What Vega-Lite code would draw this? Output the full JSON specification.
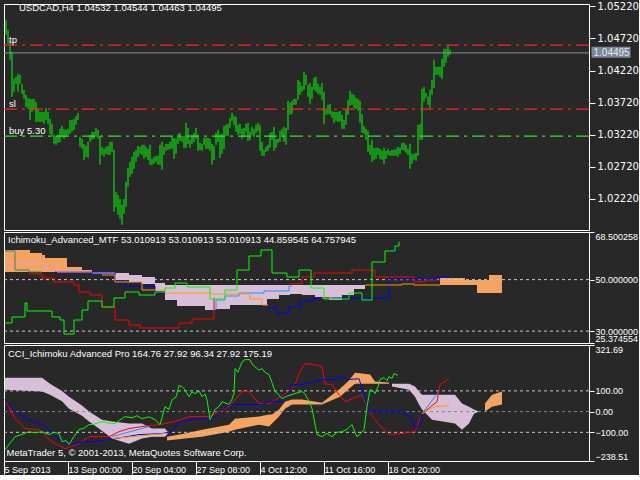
{
"$schema": "https://vega.github.io/schema/vega-lite/v6.json",
"background": "#282828",
"padding": {"left": 2, "top": 0, "right": 0, "bottom": 0},
"spacing": 2,
"bounds": "flush",
"config": {
  "view": {"stroke": "#ffffff", "strokeWidth": 1, "fill": null},
  "axis": {"grid": false, "domain": false, "labelColor": "#ffffff", "tickColor": "#ffffff", "labelFont": "Liberation Sans", "labelFontSize": 9, "labelOverlap": false},
  "title": {"color": "#ffffff", "font": "Liberation Sans", "fontSize": 9.5, "fontWeight": "normal", "anchor": "start", "frame": "group", "baseline": "alphabetic"},
  "text": {"font": "Liberation Sans", "fontSize": 9.5, "color": "#ffffff"}
},
"datasets": {
  "bars": [
{"t":1,"lo":1.04777,"hi":1.05012},{"t":2,"lo":1.04637,"hi":1.04855},{"t":3,"lo":1.04387,"hi":1.04668},{"t":4,"lo":1.03809,"hi":1.04512},{"t":5,"lo":1.03887,"hi":1.04090},{"t":6,"lo":1.04012,"hi":1.04121},{"t":7,"lo":1.03887,"hi":1.04168},{"t":8,"lo":1.04012,"hi":1.04152},{"t":9,"lo":1.03855,"hi":1.04012},{"t":10,"lo":1.03777,"hi":1.03918},
{"t":11,"lo":1.03652,"hi":1.03840},{"t":12,"lo":1.03621,"hi":1.03793},{"t":13,"lo":1.03449,"hi":1.03777},{"t":14,"lo":1.03574,"hi":1.03777},{"t":15,"lo":1.03605,"hi":1.03777},{"t":16,"lo":1.03418,"hi":1.03730},{"t":17,"lo":1.03418,"hi":1.03621},{"t":18,"lo":1.03418,"hi":1.03574},{"t":19,"lo":1.03418,"hi":1.03574},{"t":20,"lo":1.03387,"hi":1.03574},
{"t":21,"lo":1.03449,"hi":1.03637},{"t":22,"lo":1.03387,"hi":1.03574},{"t":23,"lo":1.03230,"hi":1.03465},{"t":24,"lo":1.03184,"hi":1.03387},{"t":25,"lo":1.03074,"hi":1.03215},{"t":26,"lo":1.03059,"hi":1.03199},{"t":27,"lo":1.03090,"hi":1.03215},{"t":28,"lo":1.03105,"hi":1.03309},{"t":29,"lo":1.03184,"hi":1.03355},{"t":30,"lo":1.03152,"hi":1.03309},
{"t":31,"lo":1.03184,"hi":1.03293},{"t":32,"lo":1.03215,"hi":1.03309},{"t":33,"lo":1.03230,"hi":1.03449},{"t":34,"lo":1.03262,"hi":1.03449},{"t":35,"lo":1.03293,"hi":1.03465},{"t":36,"lo":1.03371,"hi":1.03512},{"t":37,"lo":1.03449,"hi":1.03559},{"t":38,"lo":1.03027,"hi":1.03184},{"t":39,"lo":1.02996,"hi":1.03152},{"t":40,"lo":1.02824,"hi":1.03074},
{"t":41,"lo":1.02871,"hi":1.03043},{"t":42,"lo":1.02855,"hi":1.03105},{"t":43,"lo":1.03105,"hi":1.03215},{"t":44,"lo":1.03137,"hi":1.03262},{"t":45,"lo":1.03152,"hi":1.03262},{"t":46,"lo":1.03184,"hi":1.03324},{"t":47,"lo":1.03152,"hi":1.03293},{"t":48,"lo":1.02746,"hi":1.03199},{"t":49,"lo":1.02902,"hi":1.03027},{"t":50,"lo":1.02871,"hi":1.02996},
{"t":51,"lo":1.02918,"hi":1.03027},{"t":52,"lo":1.02902,"hi":1.03043},{"t":53,"lo":1.02902,"hi":1.03105},{"t":54,"lo":1.02949,"hi":1.03105},{"t":55,"lo":1.02012,"hi":1.02980},{"t":56,"lo":1.02090,"hi":1.02324},{"t":57,"lo":1.01965,"hi":1.02277},{"t":58,"lo":1.01902,"hi":1.02215},{"t":59,"lo":1.01809,"hi":1.02121},{"t":60,"lo":1.01980,"hi":1.02215},
{"t":61,"lo":1.02090,"hi":1.02480},{"t":62,"lo":1.02402,"hi":1.02699},{"t":63,"lo":1.02559,"hi":1.02793},{"t":64,"lo":1.02605,"hi":1.02871},{"t":65,"lo":1.02684,"hi":1.02949},{"t":66,"lo":1.02793,"hi":1.02980},{"t":67,"lo":1.02871,"hi":1.03043},{"t":68,"lo":1.02918,"hi":1.03027},{"t":69,"lo":1.02902,"hi":1.03059},{"t":70,"lo":1.02840,"hi":1.03059},
{"t":71,"lo":1.02871,"hi":1.03027},{"t":72,"lo":1.02824,"hi":1.02996},{"t":73,"lo":1.02746,"hi":1.03059},{"t":74,"lo":1.02746,"hi":1.02840},{"t":75,"lo":1.02762,"hi":1.02871},{"t":76,"lo":1.02793,"hi":1.02887},{"t":77,"lo":1.02746,"hi":1.02887},{"t":78,"lo":1.02746,"hi":1.03059},{"t":79,"lo":1.02668,"hi":1.03105},{"t":80,"lo":1.02902,"hi":1.03027},
{"t":81,"lo":1.02965,"hi":1.03074},{"t":82,"lo":1.02980,"hi":1.03074},{"t":83,"lo":1.02996,"hi":1.03105},{"t":84,"lo":1.02996,"hi":1.03184},{"t":85,"lo":1.02840,"hi":1.03168},{"t":86,"lo":1.02918,"hi":1.03152},{"t":87,"lo":1.03074,"hi":1.03230},{"t":88,"lo":1.03121,"hi":1.03246},{"t":89,"lo":1.03105,"hi":1.03199},{"t":90,"lo":1.03012,"hi":1.03199},
{"t":91,"lo":1.03012,"hi":1.03402},{"t":92,"lo":1.03074,"hi":1.03324},{"t":93,"lo":1.03012,"hi":1.03137},{"t":94,"lo":1.03074,"hi":1.03215},{"t":95,"lo":1.03105,"hi":1.03246},{"t":96,"lo":1.03152,"hi":1.03324},{"t":97,"lo":1.02965,"hi":1.03215},{"t":98,"lo":1.02980,"hi":1.03090},{"t":99,"lo":1.02965,"hi":1.03074},{"t":100,"lo":1.03059,"hi":1.03168},
{"t":101,"lo":1.02996,"hi":1.03168},{"t":102,"lo":1.02996,"hi":1.03168},{"t":103,"lo":1.02965,"hi":1.03152},{"t":104,"lo":1.02746,"hi":1.03074},{"t":105,"lo":1.02824,"hi":1.03043},{"t":106,"lo":1.03059,"hi":1.03246},{"t":107,"lo":1.03105,"hi":1.03293},{"t":108,"lo":1.02855,"hi":1.03215},{"t":109,"lo":1.02918,"hi":1.03230},{"t":110,"lo":1.02996,"hi":1.03355},
{"t":111,"lo":1.03199,"hi":1.03371},{"t":112,"lo":1.03199,"hi":1.03387},{"t":113,"lo":1.03324,"hi":1.03480},{"t":114,"lo":1.03434,"hi":1.03559},{"t":115,"lo":1.03371,"hi":1.03512},{"t":116,"lo":1.03262,"hi":1.03496},{"t":117,"lo":1.03215,"hi":1.03371},{"t":118,"lo":1.03230,"hi":1.03387},{"t":119,"lo":1.03152,"hi":1.03309},{"t":120,"lo":1.03184,"hi":1.03324},
{"t":121,"lo":1.03262,"hi":1.03387},{"t":122,"lo":1.03121,"hi":1.03402},{"t":123,"lo":1.03137,"hi":1.03262},{"t":124,"lo":1.03215,"hi":1.03340},{"t":125,"lo":1.03184,"hi":1.03309},{"t":126,"lo":1.03246,"hi":1.03371},{"t":127,"lo":1.03277,"hi":1.03402},{"t":128,"lo":1.02965,"hi":1.03371},{"t":129,"lo":1.02887,"hi":1.03105},{"t":130,"lo":1.02887,"hi":1.02980},
{"t":131,"lo":1.02949,"hi":1.03027},{"t":132,"lo":1.02965,"hi":1.03059},{"t":133,"lo":1.03012,"hi":1.03246},{"t":134,"lo":1.03137,"hi":1.03262},{"t":135,"lo":1.02965,"hi":1.03340},{"t":136,"lo":1.03012,"hi":1.03152},{"t":137,"lo":1.03090,"hi":1.03152},{"t":138,"lo":1.03105,"hi":1.03277},{"t":139,"lo":1.03184,"hi":1.03309},{"t":140,"lo":1.03105,"hi":1.03340},
{"t":141,"lo":1.03059,"hi":1.03324},{"t":142,"lo":1.03293,"hi":1.03746},{"t":143,"lo":1.03527,"hi":1.03715},{"t":144,"lo":1.03543,"hi":1.03746},{"t":145,"lo":1.03684,"hi":1.03777},{"t":146,"lo":1.03684,"hi":1.03777},{"t":147,"lo":1.03762,"hi":1.04074},{"t":148,"lo":1.03840,"hi":1.04043},{"t":149,"lo":1.03887,"hi":1.03980},{"t":150,"lo":1.03918,"hi":1.04199},
{"t":151,"lo":1.03996,"hi":1.04152},{"t":152,"lo":1.03809,"hi":1.03996},{"t":153,"lo":1.03699,"hi":1.04027},{"t":154,"lo":1.03777,"hi":1.03965},{"t":155,"lo":1.03918,"hi":1.04105},{"t":156,"lo":1.03887,"hi":1.04121},{"t":157,"lo":1.03855,"hi":1.04012},{"t":158,"lo":1.03840,"hi":1.03965},{"t":159,"lo":1.03762,"hi":1.04027},{"t":160,"lo":1.03387,"hi":1.03887},
{"t":161,"lo":1.03527,"hi":1.03605},{"t":162,"lo":1.03543,"hi":1.03684},{"t":163,"lo":1.03527,"hi":1.03699},{"t":164,"lo":1.03480,"hi":1.03590},{"t":165,"lo":1.03402,"hi":1.03574},{"t":166,"lo":1.03434,"hi":1.03574},{"t":167,"lo":1.03418,"hi":1.03574},{"t":168,"lo":1.03418,"hi":1.03590},{"t":169,"lo":1.03309,"hi":1.03527},{"t":170,"lo":1.03309,"hi":1.03449},
{"t":171,"lo":1.03371,"hi":1.03621},{"t":172,"lo":1.03527,"hi":1.03762},{"t":173,"lo":1.03668,"hi":1.03902},{"t":174,"lo":1.03684,"hi":1.03855},{"t":175,"lo":1.03637,"hi":1.03840},{"t":176,"lo":1.03621,"hi":1.03793},{"t":177,"lo":1.03590,"hi":1.03777},{"t":178,"lo":1.03402,"hi":1.03746},{"t":179,"lo":1.03246,"hi":1.03543},{"t":180,"lo":1.03230,"hi":1.03355},
{"t":181,"lo":1.03137,"hi":1.03309},{"t":182,"lo":1.02949,"hi":1.03277},{"t":183,"lo":1.02902,"hi":1.03059},{"t":184,"lo":1.02793,"hi":1.03137},{"t":185,"lo":1.02824,"hi":1.03012},{"t":186,"lo":1.02840,"hi":1.03012},{"t":187,"lo":1.02902,"hi":1.03012},{"t":188,"lo":1.02840,"hi":1.02996},{"t":189,"lo":1.02824,"hi":1.02965},{"t":190,"lo":1.02762,"hi":1.03012},
{"t":191,"lo":1.02840,"hi":1.02965},{"t":192,"lo":1.02902,"hi":1.02996},{"t":193,"lo":1.02887,"hi":1.02965},{"t":194,"lo":1.02887,"hi":1.02980},{"t":195,"lo":1.02887,"hi":1.02980},{"t":196,"lo":1.02887,"hi":1.02996},{"t":197,"lo":1.02871,"hi":1.03027},{"t":198,"lo":1.02918,"hi":1.03012},{"t":199,"lo":1.02980,"hi":1.03090},{"t":200,"lo":1.02965,"hi":1.03090},
{"t":201,"lo":1.02934,"hi":1.03059},{"t":202,"lo":1.02902,"hi":1.02996},{"t":203,"lo":1.02684,"hi":1.03074},{"t":204,"lo":1.02762,"hi":1.02918},{"t":205,"lo":1.02824,"hi":1.02918},{"t":206,"lo":1.02809,"hi":1.02934},{"t":207,"lo":1.02887,"hi":1.03371},{"t":208,"lo":1.03137,"hi":1.03387},{"t":209,"lo":1.03137,"hi":1.03934},{"t":210,"lo":1.03730,"hi":1.03965},
{"t":211,"lo":1.03793,"hi":1.03871},{"t":212,"lo":1.03684,"hi":1.03809},{"t":213,"lo":1.03637,"hi":1.03918},{"t":214,"lo":1.03840,"hi":1.04074},{"t":215,"lo":1.03949,"hi":1.04387},{"t":216,"lo":1.04152,"hi":1.04277},{"t":217,"lo":1.04152,"hi":1.04277},{"t":218,"lo":1.04121,"hi":1.04277},{"t":219,"lo":1.04090,"hi":1.04402},{"t":220,"lo":1.04277,"hi":1.04559},
{"t":221,"lo":1.04340,"hi":1.04559},{"t":222,"lo":1.04434,"hi":1.04605},{"t":223,"lo":1.04463,"hi":1.04544}
  ],
  "levels": [{"name":"tp","price":1.04617},{"name":"sl","price":1.03617},{"name":"buy 5.30","price":1.03195}],
  "last": [{"price":1.04495}],
  "ich": [
{"s":"lime","g":"lime","t":0.5,"v":33.15},{"s":"lime","g":"lime","t":4,"v":35.48},{"s":"lime","g":"lime","t":10.5,"v":40.92},{"s":"lime","g":"lime","t":11.5,"v":37.81},{"s":"lime","g":"lime","t":24,"v":35.48},{"s":"lime","g":"lime","t":28,"v":34.31},{"s":"lime","g":"lime","t":30,"v":28.87},{"s":"lime","g":"lime","t":35,"v":34.31},{"s":"lime","g":"lime","t":39,"v":38.20},{"s":"lime","g":"lime","t":42,"v":41.69},{"s":"lime","g":"lime","t":49,"v":39.36},{"s":"lime","g":"lime","t":55,"v":42.86},{"s":"lime","g":"lime","t":60.5,"v":45.19},{"s":"lime","g":"lime","t":67.5,"v":44.02},{"s":"lime","g":"lime","t":75.5,"v":45.19},{"s":"lime","g":"lime","t":80.5,"v":46.74},{"s":"lime","g":"lime","t":85.5,"v":48.69},{"s":"lime","g":"lime","t":91.5,"v":47.13},{"s":"lime","g":"lime","t":103,"v":42.47},{"s":"lime","g":"lime","t":110.5,"v":45.97},{"s":"lime","g":"lime","t":116.5,"v":53.74},{"s":"lime","g":"lime","t":122.5,"v":59.18},{"s":"lime","g":"lime","t":128.5,"v":61.51},{"s":"lime","g":"lime","t":134,"v":52.57},{"s":"lime","g":"lime","t":141.5,"v":51.02},{"s":"lime","g":"lime","t":147.5,"v":53.74},{"s":"lime","g":"lime","t":153.5,"v":46.74},{"s":"lime","g":"lime","t":160,"v":42.47},{"s":"lime","g":"lime","t":172.5,"v":44.80},{"s":"lime","g":"lime","t":179,"v":42.08},{"s":"lime","g":"lime","t":184,"v":56.85},{"s":"lime","g":"lime","t":190.5,"v":61.12},{"s":"lime","g":"lime","t":195.5,"v":63.06},{"s":"lime","g":"lime","t":197.5,"v":64.76},
{"s":"red","g":"ra","t":12.5,"v":52.18},{"s":"red","g":"ra","t":19,"v":50.63},{"s":"red","g":"ra","t":25,"v":49.07},{"s":"red","g":"ra","t":35,"v":47.91},{"s":"red","g":"ra","t":37.5,"v":45.19},{"s":"red","g":"ra","t":43,"v":44.02},{"s":"red","g":"ra","t":49,"v":39.36},{"s":"red","g":"ra","t":55.5,"v":34.31},{"s":"red","g":"ra","t":62.5,"v":32.37},{"s":"red","g":"ra","t":68,"v":31.20},{"s":"red","g":"ra","t":87.5,"v":33.15},{"s":"red","g":"ra","t":94,"v":34.70},{"s":"red","g":"ra","t":105,"v":42.86},
{"s":"red","g":"rb","t":142.5,"v":48.30},{"s":"red","g":"rb","t":149,"v":51.02},{"s":"red","g":"rb","t":155,"v":52.57},{"s":"red","g":"rb","t":174,"v":53.74},{"s":"red","g":"rb","t":185.5,"v":51.02},{"s":"red","g":"rb","t":205,"v":49.07},{"s":"red","g":"rb","t":210.5,"v":49.85},{"s":"red","g":"rb","t":216.5,"v":50.63},{"s":"red","g":"rb","t":217.5,"v":50.63},
{"s":"blue","g":"ba","t":25.5,"v":52.96},{"s":"blue","g":"ba","t":44,"v":52.57},{"s":"blue","g":"ba","t":55.5,"v":48.69},{"s":"blue","g":"ba","t":60.5,"v":47.52},{"s":"blue","g":"ba","t":75.5,"v":44.80},{"s":"blue","g":"ba","t":80.5,"v":44.80},
{"s":"blue","g":"bb","t":130.5,"v":38.97},{"s":"blue","g":"bb","t":136.5,"v":37.03},{"s":"blue","g":"bb","t":142.5,"v":39.36},{"s":"blue","g":"bb","t":148,"v":41.69},{"s":"blue","g":"bb","t":155,"v":42.86},{"s":"blue","g":"bb","t":192.5,"v":50.24},{"s":"blue","g":"bb","t":216.5,"v":51.02},{"s":"blue","g":"bb","t":223,"v":51.02},
{"s":"dodger","g":"da","t":105.5,"v":38.20},{"s":"dodger","g":"da","t":106,"v":42.08},{"s":"dodger","g":"da","t":110.5,"v":43.63},{"s":"dodger","g":"da","t":117.5,"v":44.80},{"s":"dodger","g":"da","t":130,"v":45.58},{"s":"dodger","g":"da","t":142.5,"v":47.52},{"s":"dodger","g":"da","t":144,"v":47.52},
{"s":"orange","g":"oa","t":49,"v":51.79},{"s":"orange","g":"oa","t":55.5,"v":49.07},{"s":"orange","g":"oa","t":69,"v":45.97},{"s":"orange","g":"oa","t":80.5,"v":44.80},{"s":"orange","g":"oa","t":104,"v":44.41},{"s":"orange","g":"oa","t":123,"v":42.47},{"s":"orange","g":"oa","t":129,"v":40.14},{"s":"orange","g":"oa","t":132,"v":40.14},
{"s":"orange","g":"ob","t":159,"v":42.86},{"s":"orange","g":"ob","t":164,"v":42.86},
{"s":"orange","g":"oc","t":180.5,"v":47.91},{"s":"orange","g":"oc","t":199,"v":48.30},{"s":"orange","g":"oc","t":205,"v":47.91},{"s":"orange","g":"oc","t":218,"v":47.91},
{"s":"plum","g":"pl","t":0.5,"v":56.46},{"s":"plum","g":"pl","t":20.5,"v":54.51},{"s":"plum","g":"pl","t":26.5,"v":52.96},{"s":"plum","g":"pl","t":44,"v":52.96},
{"s":"sea","g":"sg","t":0.5,"v":61.12},{"s":"sea","g":"sg","t":5.5,"v":53.74},{"s":"sea","g":"sg","t":12.5,"v":52.96},{"s":"sea","g":"sg","t":19,"v":52.96}
  ],
  "ichc": [
{"c":"sandy","g":"o1","t":0.5,"top":61.51,"bot":52.96},{"c":"sandy","g":"o1","t":13,"top":60.34,"bot":52.96},{"c":"sandy","g":"o1","t":19,"top":59.56,"bot":52.96},{"c":"sandy","g":"o1","t":20.5,"top":58.40,"bot":52.96},{"c":"sandy","g":"o1","t":31.5,"top":54.90,"bot":52.96},{"c":"sandy","g":"o1","t":39,"top":53.74,"bot":52.96},{"c":"sandy","g":"o1","t":44,"top":53.74,"bot":52.96},
{"c":"sandy","g":"o2","t":218,"top":50.63,"bot":47.91},{"c":"sandy","g":"o2","t":230.5,"top":49.85,"bot":47.91},{"c":"sandy","g":"o2","t":236.5,"top":49.85,"bot":44.80},{"c":"sandy","g":"o2","t":242.5,"top":51.79,"bot":44.80},{"c":"sandy","g":"o2","t":249,"top":51.79,"bot":44.80},
{"c":"thistle","g":"p1","t":44,"top":52.96,"bot":52.18},{"c":"thistle","g":"p1","t":55.5,"top":52.57,"bot":49.85},{"c":"thistle","g":"p1","t":62.5,"top":51.79,"bot":49.07},{"c":"thistle","g":"p1","t":69,"top":51.02,"bot":48.30},{"c":"thistle","g":"p1","t":75.5,"top":48.69,"bot":45.58},{"c":"thistle","g":"p1","t":80.5,"top":47.91,"bot":42.08},{"c":"thistle","g":"p1","t":86.5,"top":47.91,"bot":39.75},{"c":"thistle","g":"p1","t":100.5,"top":47.91,"bot":38.20},{"c":"thistle","g":"p1","t":105.5,"top":47.91,"bot":38.58},{"c":"thistle","g":"p1","t":113,"top":47.91,"bot":40.14},{"c":"thistle","g":"p1","t":131.5,"top":47.91,"bot":42.47},{"c":"thistle","g":"p1","t":137.5,"top":47.91,"bot":44.02},{"c":"thistle","g":"p1","t":143,"top":47.91,"bot":44.41},{"c":"thistle","g":"p1","t":149,"top":47.91,"bot":44.02},{"c":"thistle","g":"p1","t":155.5,"top":47.91,"bot":43.25},{"c":"thistle","g":"p1","t":162.5,"top":47.91,"bot":42.08},{"c":"thistle","g":"p1","t":169,"top":47.91,"bot":44.02},{"c":"thistle","g":"p1","t":175,"top":47.91,"bot":46.35},{"c":"thistle","g":"p1","t":180.5,"top":47.91,"bot":46.35}
  ],
  "cci": [
{"s":"lime","g":"l","t":0.5,"v":-184},{"s":"lime","g":"l","t":5.5,"v":-121},{"s":"lime","g":"l","t":9,"v":-110},{"s":"lime","g":"l","t":12.5,"v":-97},{"s":"lime","g":"l","t":15.5,"v":-102},{"s":"lime","g":"l","t":19,"v":-97},{"s":"lime","g":"l","t":22.5,"v":-111},{"s":"lime","g":"l","t":25,"v":-100},{"s":"lime","g":"l","t":27.5,"v":-106},{"s":"lime","g":"l","t":29,"v":-145},{"s":"lime","g":"l","t":31,"v":-140},{"s":"lime","g":"l","t":32.5,"v":-159},{"s":"lime","g":"l","t":35,"v":-120},{"s":"lime","g":"l","t":37.5,"v":-87},{"s":"lime","g":"l","t":40,"v":-80},{"s":"lime","g":"l","t":42.5,"v":-63},{"s":"lime","g":"l","t":45.5,"v":-60},{"s":"lime","g":"l","t":49,"v":-48},{"s":"lime","g":"l","t":52.5,"v":-55},{"s":"lime","g":"l","t":55.5,"v":-58},{"s":"lime","g":"l","t":58,"v":-40},{"s":"lime","g":"l","t":60.5,"v":-24},{"s":"lime","g":"l","t":64,"v":-30},{"s":"lime","g":"l","t":66.5,"v":-20},{"s":"lime","g":"l","t":69,"v":-34},{"s":"lime","g":"l","t":72.5,"v":-25},{"s":"lime","g":"l","t":75.5,"v":-39},{"s":"lime","g":"l","t":78,"v":-63},{"s":"lime","g":"l","t":80.5,"v":24},{"s":"lime","g":"l","t":82.5,"v":10},{"s":"lime","g":"l","t":84,"v":58},{"s":"lime","g":"l","t":86,"v":70},{"s":"lime","g":"l","t":87.5,"v":126},{"s":"lime","g":"l","t":89,"v":121},{"s":"lime","g":"l","t":90,"v":111},{"s":"lime","g":"l","t":92.5,"v":72},{"s":"lime","g":"l","t":94,"v":95},{"s":"lime","g":"l","t":95.5,"v":87},{"s":"lime","g":"l","t":97.5,"v":100},{"s":"lime","g":"l","t":99,"v":72},{"s":"lime","g":"l","t":100.5,"v":85},{"s":"lime","g":"l","t":101.5,"v":58},{"s":"lime","g":"l","t":103,"v":-39},{"s":"lime","g":"l","t":105.5,"v":10},{"s":"lime","g":"l","t":107.5,"v":25},{"s":"lime","g":"l","t":109,"v":48},{"s":"lime","g":"l","t":111,"v":40},{"s":"lime","g":"l","t":112.5,"v":34},{"s":"lime","g":"l","t":114,"v":60},{"s":"lime","g":"l","t":115,"v":87},{"s":"lime","g":"l","t":115.5,"v":208},{"s":"lime","g":"l","t":117,"v":190},{"s":"lime","g":"l","t":119,"v":240},{"s":"lime","g":"l","t":120.5,"v":251},{"s":"lime","g":"l","t":123,"v":251},{"s":"lime","g":"l","t":124,"v":230},{"s":"lime","g":"l","t":125.5,"v":217},{"s":"lime","g":"l","t":127.5,"v":200},{"s":"lime","g":"l","t":129,"v":208},{"s":"lime","g":"l","t":130.5,"v":190},{"s":"lime","g":"l","t":132.5,"v":179},{"s":"lime","g":"l","t":134,"v":140},{"s":"lime","g":"l","t":135.5,"v":97},{"s":"lime","g":"l","t":137.5,"v":80},{"s":"lime","g":"l","t":139,"v":63},{"s":"lime","g":"l","t":141.5,"v":75},{"s":"lime","g":"l","t":144,"v":82},{"s":"lime","g":"l","t":146.5,"v":90},{"s":"lime","g":"l","t":149,"v":97},{"s":"lime","g":"l","t":150.5,"v":85},{"s":"lime","g":"l","t":152.5,"v":50},{"s":"lime","g":"l","t":154,"v":14},{"s":"lime","g":"l","t":155.5,"v":-60},{"s":"lime","g":"l","t":156.5,"v":-111},{"s":"lime","g":"l","t":159,"v":-121},{"s":"lime","g":"l","t":161.5,"v":-105},{"s":"lime","g":"l","t":164,"v":-121},{"s":"lime","g":"l","t":166.5,"v":-100},{"s":"lime","g":"l","t":169,"v":-97},{"s":"lime","g":"l","t":171.5,"v":-85},{"s":"lime","g":"l","t":174,"v":-63},{"s":"lime","g":"l","t":175.5,"v":-100},{"s":"lime","g":"l","t":176.5,"v":-121},{"s":"lime","g":"l","t":178,"v":-110},{"s":"lime","g":"l","t":180,"v":-87},{"s":"lime","g":"l","t":181.5,"v":24},{"s":"lime","g":"l","t":183,"v":106},{"s":"lime","g":"l","t":184.5,"v":100},{"s":"lime","g":"l","t":185.5,"v":87},{"s":"lime","g":"l","t":187,"v":120},{"s":"lime","g":"l","t":188,"v":155},{"s":"lime","g":"l","t":190,"v":165},{"s":"lime","g":"l","t":191.5,"v":150},{"s":"lime","g":"l","t":192.5,"v":169},{"s":"lime","g":"l","t":194,"v":160},{"s":"lime","g":"l","t":195,"v":184},{"s":"lime","g":"l","t":196,"v":180},{"s":"lime","g":"l","t":197,"v":175},
{"s":"red","g":"r","t":0.5,"v":58},{"s":"red","g":"r","t":5.5,"v":-34},{"s":"red","g":"r","t":10.5,"v":-82},{"s":"red","g":"r","t":17.5,"v":-87},{"s":"red","g":"r","t":24,"v":-145},{"s":"red","g":"r","t":30.5,"v":-179},{"s":"red","g":"r","t":37.5,"v":-155},{"s":"red","g":"r","t":42.5,"v":-121},{"s":"red","g":"r","t":52.5,"v":-121},{"s":"red","g":"r","t":57.5,"v":-97},{"s":"red","g":"r","t":62.5,"v":-82},{"s":"red","g":"r","t":69,"v":-72},{"s":"red","g":"r","t":77.5,"v":-63},{"s":"red","g":"r","t":85.5,"v":-48},{"s":"red","g":"r","t":92.5,"v":-24},{"s":"red","g":"r","t":102.5,"v":-24},{"s":"red","g":"r","t":112.5,"v":24},{"s":"red","g":"r","t":119,"v":97},{"s":"red","g":"r","t":122.5,"v":97},{"s":"red","g":"r","t":127.5,"v":39},{"s":"red","g":"r","t":132.5,"v":39},{"s":"red","g":"r","t":142.5,"v":97},{"s":"red","g":"r","t":145.5,"v":130},{"s":"red","g":"r","t":147.5,"v":184},{"s":"red","g":"r","t":150.5,"v":232},{"s":"red","g":"r","t":155.5,"v":227},{"s":"red","g":"r","t":159,"v":217},{"s":"red","g":"r","t":160.5,"v":135},{"s":"red","g":"r","t":164,"v":130},{"s":"red","g":"r","t":167.5,"v":82},{"s":"red","g":"r","t":170.5,"v":48},{"s":"red","g":"r","t":179,"v":82},{"s":"red","g":"r","t":182.5,"v":0},{"s":"red","g":"r","t":187.5,"v":-63},{"s":"red","g":"r","t":192.5,"v":-111},{"s":"red","g":"r","t":199,"v":-106},{"s":"red","g":"r","t":205.5,"v":-97},{"s":"red","g":"r","t":209,"v":-10},{"s":"red","g":"r","t":216.5,"v":48},{"s":"red","g":"r","t":218,"v":130},{"s":"red","g":"r","t":222.5,"v":159},
{"s":"blue","g":"b","t":0.5,"v":58},{"s":"blue","g":"b","t":5.5,"v":0},{"s":"blue","g":"b","t":14,"v":-48},{"s":"blue","g":"b","t":20.5,"v":-72},{"s":"blue","g":"b","t":27.5,"v":-135},{"s":"blue","g":"b","t":32.5,"v":-159},{"s":"blue","g":"b","t":40.5,"v":-145},{"s":"blue","g":"b","t":45.5,"v":-145},{"s":"blue","g":"b","t":52.5,"v":-135},{"s":"blue","g":"b","t":67.5,"v":-111},{"s":"blue","g":"b","t":79,"v":-106},{"s":"blue","g":"b","t":84,"v":-97},{"s":"blue","g":"b","t":87.5,"v":-48},{"s":"blue","g":"b","t":99,"v":-34},{"s":"blue","g":"b","t":104,"v":-34},{"s":"blue","g":"b","t":112.5,"v":34},{"s":"blue","g":"b","t":129,"v":34},{"s":"blue","g":"b","t":132.5,"v":48},{"s":"blue","g":"b","t":139,"v":48},{"s":"blue","g":"b","t":142.5,"v":97},{"s":"blue","g":"b","t":144,"v":130},{"s":"blue","g":"b","t":149,"v":130},{"s":"blue","g":"b","t":155.5,"v":145},{"s":"blue","g":"b","t":159,"v":155},{"s":"blue","g":"b","t":165.5,"v":155},{"s":"blue","g":"b","t":167.5,"v":169},{"s":"blue","g":"b","t":172.5,"v":155},{"s":"blue","g":"b","t":177.5,"v":159},{"s":"blue","g":"b","t":182.5,"v":0},{"s":"blue","g":"b","t":199,"v":0},{"s":"blue","g":"b","t":203,"v":-24},{"s":"blue","g":"b","t":205.5,"v":-82},{"s":"blue","g":"b","t":208,"v":-63},{"s":"blue","g":"b","t":209,"v":-10},
{"s":"dodger","g":"da","t":54,"v":-121},{"s":"dodger","g":"da","t":72.5,"v":-72},
{"s":"dodger","g":"db","t":209,"v":-10},{"s":"dodger","g":"db","t":215.5,"v":72},{"s":"dodger","g":"db","t":217.5,"v":97},
{"s":"orange","g":"oa","t":54,"v":-130},{"s":"orange","g":"oa","t":80.5,"v":-106},
{"s":"orange","g":"ob","t":209,"v":-10},{"s":"orange","g":"ob","t":215.5,"v":24},{"s":"orange","g":"ob","t":222.5,"v":29}
  ],
  "ccic": [
{"c":"thistle","g":"p1","t":0.5,"top":164,"bot":106},{"c":"thistle","g":"p1","t":19,"top":164,"bot":97},{"c":"thistle","g":"p1","t":23,"top":135,"bot":82},{"c":"thistle","g":"p1","t":29,"top":100,"bot":50},{"c":"thistle","g":"p1","t":32.5,"top":72,"bot":14},{"c":"thistle","g":"p1","t":39,"top":30,"bot":-20},{"c":"thistle","g":"p1","t":42.5,"top":0,"bot":-48},{"c":"thistle","g":"p1","t":49,"top":-39,"bot":-92},{"c":"thistle","g":"p1","t":54,"top":-48,"bot":-130},{"c":"thistle","g":"p1","t":62.5,"top":-58,"bot":-155},{"c":"thistle","g":"p1","t":69,"top":-58,"bot":-130},{"c":"thistle","g":"p1","t":74,"top":-82,"bot":-121},{"c":"thistle","g":"p1","t":80.5,"top":-82,"bot":-121},{"c":"thistle","g":"p1","t":82,"top":-100,"bot":-105},
{"c":"thistle","g":"p2","t":194,"top":135,"bot":121},{"c":"thistle","g":"p2","t":202.5,"top":135,"bot":106},{"c":"thistle","g":"p2","t":205.5,"top":121,"bot":72},{"c":"thistle","g":"p2","t":207.5,"top":97,"bot":34},{"c":"thistle","g":"p2","t":209,"top":82,"bot":10},{"c":"thistle","g":"p2","t":214,"top":82,"bot":-39},{"c":"thistle","g":"p2","t":225.5,"top":82,"bot":-58},{"c":"thistle","g":"p2","t":229,"top":39,"bot":-87},{"c":"thistle","g":"p2","t":232.5,"top":24,"bot":-58},{"c":"thistle","g":"p2","t":235,"top":10,"bot":-10},{"c":"thistle","g":"p2","t":237.5,"top":0,"bot":0},
{"c":"sandy","g":"o1","t":81.5,"top":-121,"bot":-140},{"c":"sandy","g":"o1","t":90.5,"top":-106,"bot":-130},{"c":"sandy","g":"o1","t":99,"top":-87,"bot":-121},{"c":"sandy","g":"o1","t":112.5,"top":-63,"bot":-97},{"c":"sandy","g":"o1","t":115.5,"top":-34,"bot":-87},{"c":"sandy","g":"o1","t":127.5,"top":-24,"bot":-63},{"c":"sandy","g":"o1","t":132.5,"top":-14,"bot":-72},{"c":"sandy","g":"o1","t":134,"top":-14,"bot":-58},{"c":"sandy","g":"o1","t":137.5,"top":10,"bot":-24},{"c":"sandy","g":"o1","t":140.5,"top":48,"bot":14},{"c":"sandy","g":"o1","t":144,"top":58,"bot":34},{"c":"sandy","g":"o1","t":149,"top":58,"bot":34},{"c":"sandy","g":"o1","t":159,"top":43,"bot":34},{"c":"sandy","g":"o1","t":168,"top":111,"bot":72},{"c":"sandy","g":"o1","t":172.5,"top":150,"bot":111},{"c":"sandy","g":"o1","t":175.5,"top":188,"bot":135},{"c":"sandy","g":"o1","t":183,"top":179,"bot":135},{"c":"sandy","g":"o1","t":185.5,"top":145,"bot":135},{"c":"sandy","g":"o1","t":192.5,"top":140,"bot":135},
{"c":"sandy","g":"o2","t":240.5,"top":39,"bot":0},{"c":"sandy","g":"o2","t":244,"top":82,"bot":24},{"c":"sandy","g":"o2","t":249,"top":97,"bot":34}
  ]
},
"vconcat": [
{
  "width": 585, "height": 226,
  "title": {"text": "USDCAD,H4  1.04532 1.04544 1.04463 1.04495", "offset": -11, "dx": 15},
  "layer": [
    {"data": {"name": "bars"}, "mark": {"type": "rule", "color": "#00ff00", "strokeWidth": 1},
     "encoding": {
       "x": {"field": "t", "type": "quantitative", "scale": {"domain": [0, 292.5], "nice": false, "zero": false}, "axis": null},
       "y": {"field": "lo", "type": "quantitative", "scale": {"domain": [1.01728, 1.05259], "nice": false, "zero": false},
             "axis": {"orient": "right", "values": [1.0222, 1.0272, 1.0322, 1.0372, 1.0422, 1.0472, 1.0522], "format": ".5f", "tickSize": 6, "labelPadding": 2, "labelFont": "DejaVu Sans", "labelFontSize": 10, "labelFlush": false, "labelOverlap": false, "title": null}},
       "y2": {"field": "hi"}}},
    {"data": {"name": "levels"}, "mark": {"type": "rule", "strokeDash": [13, 5, 3, 5], "strokeWidth": 1.3},
     "encoding": {"y": {"field": "price", "type": "quantitative", "axis": {"orient": "right", "values": [1.0222, 1.0272, 1.0322, 1.0372, 1.0422, 1.0472, 1.0522], "format": ".5f", "tickSize": 6, "labelPadding": 2, "labelFont": "DejaVu Sans", "labelFontSize": 10, "labelFlush": false, "labelOverlap": false, "title": null}},
                  "color": {"field": "name", "type": "nominal", "scale": {"domain": ["tp", "sl", "buy 5.30"], "range": ["#ff2222", "#ff2222", "#33e033"]}, "legend": null}}},
    {"data": {"name": "levels"}, "mark": {"type": "text", "align": "left", "baseline": "bottom"},
     "encoding": {"x": {"datum": 2.5, "axis": null}, "y": {"field": "price", "type": "quantitative", "axis": {"orient": "right", "values": [1.0222, 1.0272, 1.0322, 1.0372, 1.0422, 1.0472, 1.0522], "format": ".5f", "tickSize": 6, "labelPadding": 2, "labelFont": "DejaVu Sans", "labelFontSize": 10, "labelFlush": false, "labelOverlap": false, "title": null}}, "text": {"field": "name"}}},
    {"data": {"name": "last"}, "mark": {"type": "rule", "color": "#8090a0", "strokeWidth": 1},
     "encoding": {"y": {"field": "price", "type": "quantitative", "axis": {"orient": "right", "values": [1.0222, 1.0272, 1.0322, 1.0372, 1.0422, 1.0472, 1.0522], "format": ".5f", "tickSize": 6, "labelPadding": 2, "labelFont": "DejaVu Sans", "labelFontSize": 10, "labelFlush": false, "labelOverlap": false, "title": null}}}},
    {"data": {"name": "last"}, "mark": {"type": "rect", "color": "#778899"},
     "encoding": {"x": {"datum": 293.75, "axis": null}, "x2": {"datum": 313.25}, "y": {"datum": 1.0459, "axis": {"orient": "right", "values": [1.0222, 1.0272, 1.0322, 1.0372, 1.0422, 1.0472, 1.0522], "format": ".5f", "tickSize": 6, "labelPadding": 2, "labelFont": "DejaVu Sans", "labelFontSize": 10, "labelFlush": false, "labelOverlap": false, "title": null}}, "y2": {"datum": 1.04418}}},
    {"data": {"name": "last"}, "mark": {"type": "text", "align": "left", "baseline": "middle", "color": "#e6e6e6", "fontSize": 10},
     "encoding": {"x": {"datum": 294.75, "axis": null}, "y": {"field": "price", "type": "quantitative", "axis": {"orient": "right", "values": [1.0222, 1.0272, 1.0322, 1.0372, 1.0422, 1.0472, 1.0522], "format": ".5f", "tickSize": 6, "labelPadding": 2, "labelFont": "DejaVu Sans", "labelFontSize": 10, "labelFlush": false, "labelOverlap": false, "title": null}}, "text": {"field": "price", "format": ".5f"}}}
  ]
},
{
  "width": 585, "height": 111,
  "title": {"text": "Ichimoku_Advanced_MTF 53.010913 53.010913 53.010913 44.859545 64.757945", "offset": -13, "dx": 4},
  "layer": [
    {"data": {"name": "ichc"}, "transform": [{"filter": "datum.c=='thistle'"}], "mark": {"type": "area", "interpolate": "step-after", "color": "#d8bfd8", "opacity": 1},
     "encoding": {
       "x": {"field": "t", "type": "quantitative", "scale": {"domain": [0, 292.5], "nice": false, "zero": false}, "axis": null},
       "y": {"field": "top", "type": "quantitative", "scale": {"domain": [25.374554, 68.500258], "nice": false, "zero": false},
             "axis": {"orient": "right", "values": [25.374554, 30, 50, 68.500258], "format": ".6f", "tickSize": 5, "labelPadding": 1, "labelFlush": true, "labelOverlap": false, "title": null}},
       "y2": {"field": "bot"}, "detail": {"field": "g"}}},
    {"data": {"name": "ichc"}, "transform": [{"filter": "datum.c=='sandy'"}], "mark": {"type": "area", "interpolate": "step-after", "color": "#f4a460", "opacity": 1},
     "encoding": {"x": {"field": "t", "type": "quantitative", "axis": null}, "y": {"field": "top", "type": "quantitative", "axis": {"orient": "right", "values": [25.374554, 30, 50, 68.500258], "format": ".6f", "tickSize": 5, "labelPadding": 1, "labelFlush": true, "labelOverlap": false, "title": null}}, "y2": {"field": "bot"}, "detail": {"field": "g"}}},
    {"data": {"values": [{"lv": 50}, {"lv": 30}]}, "mark": {"type": "rule", "color": "#c8c8c8", "strokeDash": [3, 3], "strokeWidth": 1},
     "encoding": {"y": {"field": "lv", "type": "quantitative", "axis": {"orient": "right", "values": [25.374554, 30, 50, 68.500258], "format": ".6f", "tickSize": 5, "labelPadding": 1, "labelFlush": true, "labelOverlap": false, "title": null}}}},
    {"data": {"name": "ich"}, "transform": [{"filter": "datum.s=='red'"}], "mark": {"type": "line", "interpolate": "step-after", "color": "#ff0000", "strokeWidth": 1},
     "encoding": {"x": {"field": "t", "type": "quantitative", "axis": null}, "y": {"field": "v", "type": "quantitative", "axis": {"orient": "right", "values": [25.374554, 30, 50, 68.500258], "format": ".6f", "tickSize": 5, "labelPadding": 1, "labelFlush": true, "labelOverlap": false, "title": null}}, "detail": {"field": "g"}}},
    {"data": {"name": "ich"}, "transform": [{"filter": "datum.s=='blue'"}], "mark": {"type": "line", "interpolate": "step-after", "color": "#0000ff", "strokeWidth": 1},
     "encoding": {"x": {"field": "t", "type": "quantitative", "axis": null}, "y": {"field": "v", "type": "quantitative", "axis": {"orient": "right", "values": [25.374554, 30, 50, 68.500258], "format": ".6f", "tickSize": 5, "labelPadding": 1, "labelFlush": true, "labelOverlap": false, "title": null}}, "detail": {"field": "g"}}},
    {"data": {"name": "ich"}, "transform": [{"filter": "datum.s=='dodger'"}], "mark": {"type": "line", "interpolate": "step-after", "color": "#1e90ff", "strokeWidth": 1},
     "encoding": {"x": {"field": "t", "type": "quantitative", "axis": null}, "y": {"field": "v", "type": "quantitative", "axis": {"orient": "right", "values": [25.374554, 30, 50, 68.500258], "format": ".6f", "tickSize": 5, "labelPadding": 1, "labelFlush": true, "labelOverlap": false, "title": null}}, "detail": {"field": "g"}}},
    {"data": {"name": "ich"}, "transform": [{"filter": "datum.s=='orange'"}], "mark": {"type": "line", "interpolate": "step-after", "color": "#ff9900", "strokeWidth": 1},
     "encoding": {"x": {"field": "t", "type": "quantitative", "axis": null}, "y": {"field": "v", "type": "quantitative", "axis": {"orient": "right", "values": [25.374554, 30, 50, 68.500258], "format": ".6f", "tickSize": 5, "labelPadding": 1, "labelFlush": true, "labelOverlap": false, "title": null}}, "detail": {"field": "g"}}},
    {"data": {"name": "ich"}, "transform": [{"filter": "datum.s=='plum'"}], "mark": {"type": "line", "interpolate": "step-after", "color": "#dda0dd", "strokeWidth": 1},
     "encoding": {"x": {"field": "t", "type": "quantitative", "axis": null}, "y": {"field": "v", "type": "quantitative", "axis": {"orient": "right", "values": [25.374554, 30, 50, 68.500258], "format": ".6f", "tickSize": 5, "labelPadding": 1, "labelFlush": true, "labelOverlap": false, "title": null}}, "detail": {"field": "g"}}},
    {"data": {"name": "ich"}, "transform": [{"filter": "datum.s=='sea'"}], "mark": {"type": "line", "interpolate": "step-after", "color": "#2e8b57", "strokeWidth": 1},
     "encoding": {"x": {"field": "t", "type": "quantitative", "axis": null}, "y": {"field": "v", "type": "quantitative", "axis": {"orient": "right", "values": [25.374554, 30, 50, 68.500258], "format": ".6f", "tickSize": 5, "labelPadding": 1, "labelFlush": true, "labelOverlap": false, "title": null}}, "detail": {"field": "g"}}},
    {"data": {"name": "ich"}, "transform": [{"filter": "datum.s=='lime'"}], "mark": {"type": "line", "interpolate": "step-after", "color": "#00ff00", "strokeWidth": 1},
     "encoding": {"x": {"field": "t", "type": "quantitative", "axis": null}, "y": {"field": "v", "type": "quantitative", "axis": {"orient": "right", "values": [25.374554, 30, 50, 68.500258], "format": ".6f", "tickSize": 5, "labelPadding": 1, "labelFlush": true, "labelOverlap": false, "title": null}}, "detail": {"field": "g"}}}
  ]
},
{
  "width": 585, "height": 116,
  "title": {"text": "CCI_Ichimoku Advanced Pro 164.76 27.92 96.34 27.92 175.19", "offset": -14, "dx": 4},
  "layer": [
    {"data": {"name": "ccic"}, "transform": [{"filter": "datum.c=='thistle'"}], "mark": {"type": "area", "color": "#d8bfd8", "opacity": 1},
     "encoding": {
       "x": {"field": "t", "type": "quantitative", "scale": {"domain": [0, 292.5], "nice": false, "zero": false},
             "axis": {"values": [0, 32, 64, 96, 128, 160, 192], "labelExpr": "datum.value==0?'5 Sep 2013':datum.value==32?'13 Sep 00:00':datum.value==64?'20 Sep 04:00':datum.value==96?'27 Sep 08:00':datum.value==128?'4 Oct 12:00':datum.value==160?'11 Oct 16:00':'18 Oct 20:00'", "labelAlign": "left", "labelBaseline": "top", "tickSize": 13, "labelPadding": -9, "labelDx": 2, "labelFlush": false, "labelOverlap": false, "title": null}},
       "y": {"field": "top", "type": "quantitative", "scale": {"domain": [-238.51, 321.69], "nice": false, "zero": false},
             "axis": {"orient": "right", "values": [-238.51, -100, 0, 100, 321.69], "format": ".2f", "tickSize": 5, "labelPadding": 1, "labelFlush": true, "labelOverlap": false, "title": null}},
       "y2": {"field": "bot"}, "detail": {"field": "g"}}},
    {"data": {"name": "ccic"}, "transform": [{"filter": "datum.c=='sandy'"}], "mark": {"type": "area", "color": "#f4a460", "opacity": 1},
     "encoding": {"x": {"field": "t", "type": "quantitative", "title": null}, "y": {"field": "top", "type": "quantitative", "axis": {"orient": "right", "values": [-238.51, -100, 0, 100, 321.69], "format": ".2f", "tickSize": 5, "labelPadding": 1, "labelFlush": true, "labelOverlap": false, "title": null}}, "y2": {"field": "bot"}, "detail": {"field": "g"}}},
    {"data": {"values": [{"lv": 100}, {"lv": -100}]}, "mark": {"type": "rule", "color": "#c8c8c8", "strokeDash": [3, 3], "strokeWidth": 1},
     "encoding": {"y": {"field": "lv", "type": "quantitative", "axis": {"orient": "right", "values": [-238.51, -100, 0, 100, 321.69], "format": ".2f", "tickSize": 5, "labelPadding": 1, "labelFlush": true, "labelOverlap": false, "title": null}}}},
    {"data": {"values": [{"lv": 0}]}, "mark": {"type": "rule", "color": "#778899", "strokeDash": [3, 3], "strokeWidth": 1},
     "encoding": {"y": {"field": "lv", "type": "quantitative", "axis": {"orient": "right", "values": [-238.51, -100, 0, 100, 321.69], "format": ".2f", "tickSize": 5, "labelPadding": 1, "labelFlush": true, "labelOverlap": false, "title": null}}}},
    {"data": {"name": "cci"}, "transform": [{"filter": "datum.s=='red'"}], "mark": {"type": "line", "color": "#ff0000", "strokeWidth": 1},
     "encoding": {"x": {"field": "t", "type": "quantitative", "title": null}, "y": {"field": "v", "type": "quantitative", "axis": {"orient": "right", "values": [-238.51, -100, 0, 100, 321.69], "format": ".2f", "tickSize": 5, "labelPadding": 1, "labelFlush": true, "labelOverlap": false, "title": null}}, "detail": {"field": "g"}}},
    {"data": {"name": "cci"}, "transform": [{"filter": "datum.s=='blue'"}], "mark": {"type": "line", "color": "#0000ff", "strokeWidth": 1},
     "encoding": {"x": {"field": "t", "type": "quantitative", "title": null}, "y": {"field": "v", "type": "quantitative", "axis": {"orient": "right", "values": [-238.51, -100, 0, 100, 321.69], "format": ".2f", "tickSize": 5, "labelPadding": 1, "labelFlush": true, "labelOverlap": false, "title": null}}, "detail": {"field": "g"}}},
    {"data": {"name": "cci"}, "transform": [{"filter": "datum.s=='dodger'"}], "mark": {"type": "line", "color": "#1e90ff", "strokeWidth": 1},
     "encoding": {"x": {"field": "t", "type": "quantitative", "title": null}, "y": {"field": "v", "type": "quantitative", "axis": {"orient": "right", "values": [-238.51, -100, 0, 100, 321.69], "format": ".2f", "tickSize": 5, "labelPadding": 1, "labelFlush": true, "labelOverlap": false, "title": null}}, "detail": {"field": "g"}}},
    {"data": {"name": "cci"}, "transform": [{"filter": "datum.s=='orange'"}], "mark": {"type": "line", "color": "#ff9900", "strokeWidth": 1},
     "encoding": {"x": {"field": "t", "type": "quantitative", "title": null}, "y": {"field": "v", "type": "quantitative", "axis": {"orient": "right", "values": [-238.51, -100, 0, 100, 321.69], "format": ".2f", "tickSize": 5, "labelPadding": 1, "labelFlush": true, "labelOverlap": false, "title": null}}, "detail": {"field": "g"}}},
    {"data": {"name": "cci"}, "transform": [{"filter": "datum.s=='lime'"}], "mark": {"type": "line", "color": "#00ff00", "strokeWidth": 1},
     "encoding": {"x": {"field": "t", "type": "quantitative", "title": null}, "y": {"field": "v", "type": "quantitative", "axis": {"orient": "right", "values": [-238.51, -100, 0, 100, 321.69], "format": ".2f", "tickSize": 5, "labelPadding": 1, "labelFlush": true, "labelOverlap": false, "title": null}}, "detail": {"field": "g"}}},
    {"data": {"values": [{}]}, "mark": {"type": "text", "align": "left", "baseline": "alphabetic", "text": "MetaTrader 5, © 2001-2013, MetaQuotes Software Corp."},
     "encoding": {"x": {"datum": 1.25, "title": null}, "y": {"datum": -214, "axis": {"orient": "right", "values": [-238.51, -100, 0, 100, 321.69], "format": ".2f", "tickSize": 5, "labelPadding": 1, "labelFlush": true, "labelOverlap": false, "title": null}}}}
  ]
}
]
}
